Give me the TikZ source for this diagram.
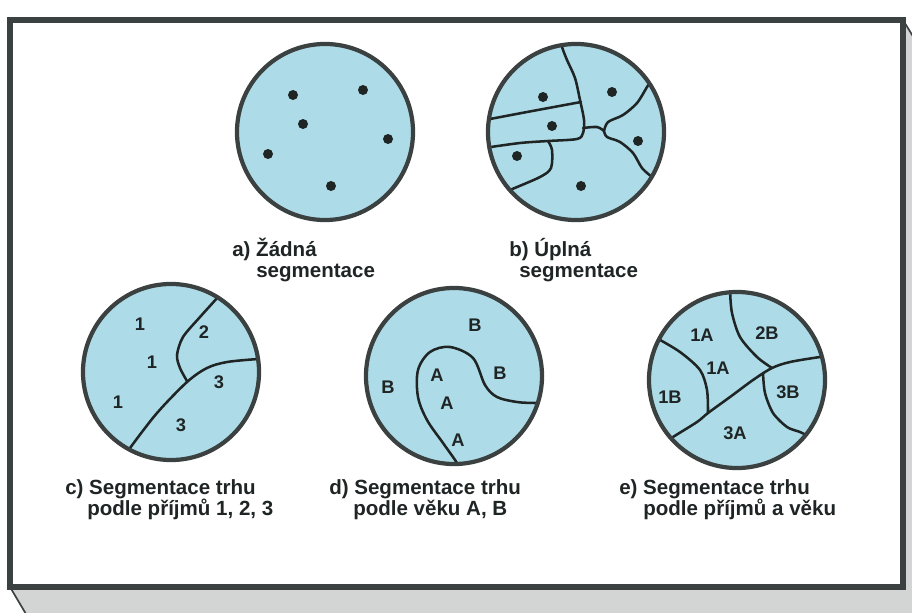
\documentclass[tikz,border=0pt]{standalone}
\usepackage{fontspec}
\setmainfont{Liberation Sans}
\usepackage{xcolor}
\usepackage{tikz}
\definecolor{segblue}{HTML}{ADDCE8}
\definecolor{segrim}{HTML}{3B4040}
\definecolor{segink}{HTML}{1F2424}
\definecolor{segshade}{HTML}{D3D5D5}
\tikzset{
  market/.style={circle, draw=segrim, fill=segblue, line width=3pt, minimum size=4.4cm, inner sep=0pt},
  seed/.style={circle, fill=segink, minimum size=0.25cm, inner sep=0pt},
  border/.style={draw=segink, line width=1.8pt, line join=round, line cap=round},
  zone/.style={font=\bfseries\fontsize{13}{15}\selectfont, text=segink, inner sep=0pt},
  caption/.style={font=\bfseries\fontsize{14.6}{14.9}\selectfont, text=segink, align=left, anchor=base west, inner sep=0pt}
}

\begin{document}
\begin{tikzpicture}[x=0.025cm, y=-0.025cm]
  \useasboundingbox (0,0) rectangle (912,612);
  \clip (0,0) rectangle (912,612);

  % frame and its shaded side
  \fill[segshade] (10,587) -- (26,614) -- (914,614) -- (914,38) -- (903,20) -- cycle;
  \draw[segrim, line width=1.2pt] (10,587) -- (26,614) (903,20) -- (914,38);
  \draw[segrim, line width=3.6pt, fill=white] (10,20) rectangle (903,587);

  \node[market] (ca) at (325,132) {};
  \node[market] (cb) at (576,132) {};
  \node[market] (cc) at (171,372) {};
  \node[market] (cd) at (454,376) {};
  \node[market] (ce) at (737,380) {};

  \foreach \p [count=\i] in {(293,95),(363,90),(303,124),(388,139),(268,154),(331,186)}
    \node[seed] (adot\i) at \p {};

  \begin{scope}
    \clip (cb.center) circle[radius=2.15cm];
    \draw[border] plot[smooth, tension=0.5] coordinates
      {(561,40) (562,47) (567,60) (575,78) (580,100) (584,120) (583,133) (577,139) (548,141) (520,143) (484,148)};
    \draw[border] plot[smooth, tension=0.5] coordinates {(484,120) (490,119) (527,112) (581,102)};
    \draw[border] plot[smooth, tension=0.5] coordinates {(548,141) (552,150) (551,168) (540,177) (510,190) (504,193)};
    \draw[border] plot[smooth, tension=0.5] coordinates {(583,128) (597,127) (604,131)};
    \draw[border] plot[smooth, tension=0.5] coordinates {(604,131) (608,122) (623,115) (637,103) (647,87) (651,81)};
    \draw[border] plot[smooth, tension=0.5] coordinates {(604,131) (607,137) (620,142) (633,153) (642,168) (652,177) (658,181)};
  \end{scope}
  \foreach \p [count=\i] in {(543,97),(612,92),(552,126),(638,141),(517,156),(581,186)}
    \node[seed] (bdot\i) at \p {};

  \begin{scope}
    \clip (cc.center) circle[radius=2.15cm];
    \draw[border] plot[smooth, tension=0.5] coordinates
      {(221,291) (217,298) (200,317) (183,337) (177,355) (180,368) (187,381)};
    \draw[border] plot[smooth, tension=0.5] coordinates
      {(126,455) (130,448) (157,413) (187,382) (207,368) (227,362) (258,359) (266,359)};
  \end{scope}
  \node[zone] (c1a) at (140,324) {1};
  \node[zone] (c1b) at (152,362) {1};
  \node[zone] (c1c) at (118,402) {1};
  \node[zone] (c2) at (204,332) {2};
  \node[zone] (c3a) at (219,382) {3};
  \node[zone] (c3b) at (181,425) {3};

  \begin{scope}
    \clip (cd.center) circle[radius=2.15cm];
    \draw[border] plot[smooth, tension=0.55] coordinates
      {(459,470) (457,463) (443,443) (427,420) (418,397) (418,370) (430,352) (450,347)
       (473,358) (485,385) (497,397) (517,402) (535,403) (546,403)};
  \end{scope}
  \node[zone] (dB1) at (475,325) {B};
  \node[zone] (dB2) at (500,373) {B};
  \node[zone] (dB3) at (388,387) {B};
  \node[zone] (dA1) at (437,375) {A};
  \node[zone] (dA2) at (447,403) {A};
  \node[zone] (dA3) at (458,440) {A};

  \begin{scope}
    \clip (ce.center) circle[radius=2.15cm];
    \draw[border] plot[smooth, tension=0.5] coordinates
      {(730,284) (730,291) (732,313) (740,337) (757,357) (772,368)};
    \draw[border] plot[smooth, tension=0.5] coordinates
      {(649,333) (655,337) (680,352) (700,370) (707,390) (708,413)};
    \draw[border] plot[smooth, tension=0.5] coordinates
      {(667,442) (673,437) (697,422) (708,413) (730,397) (753,380) (772,368) (790,362) (820,357) (832,356)};
    \draw[border] plot[smooth, tension=0.5] coordinates
      {(763,373) (765,393) (773,413) (787,427) (800,432) (808,436)};
  \end{scope}
  \node[zone] (e1A) at (702,335) {1A};
  \node[zone] (e2B) at (767,333) {2B};
  \node[zone] (e1Ab) at (718,368) {1A};
  \node[zone] (e1B) at (670,397) {1B};
  \node[zone] (e3B) at (788,392) {3B};
  \node[zone] (e3A) at (735,433) {3A};

  \node[caption] (la) at (232,277) {a) Žádná\\\hspace*{0.6cm}segmentace};
  \node[caption] (lb) at (509,277) {b) Úplná\\\hspace*{0.25cm}segmentace};
  \node[caption] (lc) at (65,515) {c) Segmentace trhu\\\hspace*{0.55cm}podle příjmů 1, 2, 3};
  \node[caption] (ld) at (329,515) {d) Segmentace trhu\\\hspace*{0.6cm}podle věku A, B};
  \node[caption] (le) at (619,515) {e) Segmentace trhu\\\hspace*{0.6cm}podle příjmů a věku};
\end{tikzpicture}
\end{document}
